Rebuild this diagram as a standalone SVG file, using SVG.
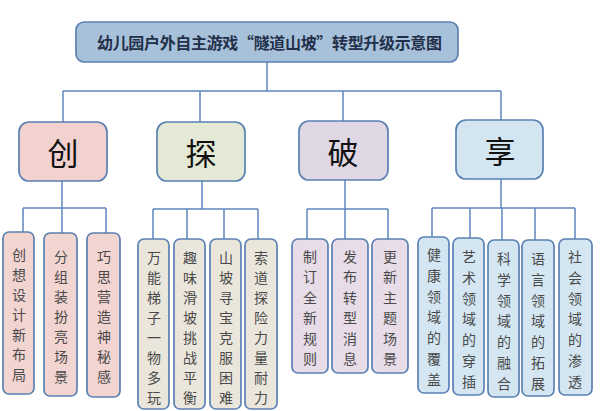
<svg xmlns="http://www.w3.org/2000/svg" width="600" height="411" viewBox="0 0 600 411">
<style>
.ln{fill:none;stroke:#5e87bd;stroke-width:1.5}
.bx{stroke:#5b80b3;stroke-width:1.7}
.cat{font-family:"Noto Sans CJK SC","Noto Sans CJK TC",serif;font-size:31px;fill:#111;text-anchor:middle;dominant-baseline:central}
.ch{font-family:"Noto Sans CJK SC",sans-serif;font-size:14px;fill:#4a4a4a;text-anchor:middle;dominant-baseline:central}
.t{font-family:"Noto Sans CJK SC",sans-serif;font-size:16px;font-weight:bold;fill:#23304a;dominant-baseline:central}
.c1{fill:#f2d1cf}.c2{fill:#e3e9d4}.c3{fill:#e0d7e5}.c4{fill:#d2e5f0}
.k1{fill:#f2d4d1}.k2{fill:#ebe6dc}.k3{fill:#e7dce7}.k4{fill:#d3e6f1}
</style>
<rect width="600" height="411" fill="#ffffff"/>
<g id="connectors">
<path class="ln" d="M267 62V91M63 91H501M63 91V122M200 91V122M343 91V121M501 91V120"/>
<path class="ln" d="M62 181V208M23 208H106M23 208V232M62 208V233M106 208V233"/>
<path class="ln" d="M202 181V209M153 209H258M153 209V239M187 209V239M224 209V239M258 209V239"/>
<path class="ln" d="M345 180V239M307 209H388M307 209V239M388 209V239"/>
<path class="ln" d="M501 179V208M432 208H575M432 208V237M470 208V238M502 208V240M535 208V240M575 208V239"/>
</g>
<g id="title">
<rect class="bx" x="76" y="22" width="382" height="40" rx="8" fill="#a8c1da"/>
<text class="t" x="97" y="42" textLength="345" lengthAdjust="spacing">幼儿园户外自主游戏“隧道山坡”转型升级示意图</text>
</g>
<g id="cat-chuang"><rect class="bx c1" x="19" y="122" width="88" height="59" rx="10"/><text class="cat" x="63" y="151">创</text></g>
<g id="cat-tan"><rect class="bx c2" x="157" y="122" width="88" height="59" rx="10"/><text class="cat" x="201" y="151">探</text></g>
<g id="cat-po"><rect class="bx c3" x="299" y="121" width="89" height="59" rx="10"/><text class="cat" x="343" y="150">破</text></g>
<g id="cat-xiang"><rect class="bx c4" x="456" y="120" width="87" height="59" rx="10"/><text class="cat" x="500" y="149">享</text></g>

<g id="n1"><rect class="bx k1" x="3" y="232" width="31" height="162" rx="6"/><text class="ch" x="19"><tspan x="19" y="254">创</tspan><tspan x="19" dy="20">想</tspan><tspan x="19" dy="20">设</tspan><tspan x="19" dy="20">计</tspan><tspan x="19" dy="20">新</tspan><tspan x="19" dy="20">布</tspan><tspan x="19" dy="20">局</tspan></text></g>
<g id="n2"><rect class="bx k1" x="44" y="233" width="33" height="163" rx="6"/><text class="ch"><tspan x="61" y="256">分</tspan><tspan x="61" dy="20">组</tspan><tspan x="61" dy="20">装</tspan><tspan x="61" dy="20">扮</tspan><tspan x="61" dy="20">亮</tspan><tspan x="61" dy="20">场</tspan><tspan x="61" dy="20">景</tspan></text></g>
<g id="n3"><rect class="bx k1" x="87" y="233" width="33" height="164" rx="6"/><text class="ch"><tspan x="104" y="256">巧</tspan><tspan x="104" dy="20">思</tspan><tspan x="104" dy="20">营</tspan><tspan x="104" dy="20">造</tspan><tspan x="104" dy="20">神</tspan><tspan x="104" dy="20">秘</tspan><tspan x="104" dy="20">感</tspan></text></g>

<g id="n4"><rect class="bx k2" x="138" y="239" width="31" height="170" rx="6"/><text class="ch"><tspan x="154" y="257">万</tspan><tspan x="154" dy="20">能</tspan><tspan x="154" dy="20">梯</tspan><tspan x="154" dy="20">子</tspan><tspan x="154" dy="20">一</tspan><tspan x="154" dy="20">物</tspan><tspan x="154" dy="20">多</tspan><tspan x="154" dy="20">玩</tspan></text></g>
<g id="n5"><rect class="bx k2" x="174" y="239" width="31" height="170" rx="6"/><text class="ch"><tspan x="190" y="257">趣</tspan><tspan x="190" dy="20">味</tspan><tspan x="190" dy="20">滑</tspan><tspan x="190" dy="20">坡</tspan><tspan x="190" dy="20">挑</tspan><tspan x="190" dy="20">战</tspan><tspan x="190" dy="20">平</tspan><tspan x="190" dy="20">衡</tspan></text></g>
<g id="n6"><rect class="bx k2" x="210" y="239" width="31" height="170" rx="6"/><text class="ch"><tspan x="226" y="257">山</tspan><tspan x="226" dy="20">坡</tspan><tspan x="226" dy="20">寻</tspan><tspan x="226" dy="20">宝</tspan><tspan x="226" dy="20">克</tspan><tspan x="226" dy="20">服</tspan><tspan x="226" dy="20">困</tspan><tspan x="226" dy="20">难</tspan></text></g>
<g id="n7"><rect class="bx k2" x="245" y="239" width="32" height="170" rx="6"/><text class="ch"><tspan x="261" y="257">索</tspan><tspan x="261" dy="20">道</tspan><tspan x="261" dy="20">探</tspan><tspan x="261" dy="20">险</tspan><tspan x="261" dy="20">力</tspan><tspan x="261" dy="20">量</tspan><tspan x="261" dy="20">耐</tspan><tspan x="261" dy="20">力</tspan></text></g>

<g id="n8"><rect class="bx k3" x="292" y="239" width="36" height="134" rx="6"/><text class="ch"><tspan x="310" y="256">制</tspan><tspan x="310" dy="20.4">订</tspan><tspan x="310" dy="20.4">全</tspan><tspan x="310" dy="20.4">新</tspan><tspan x="310" dy="20.4">规</tspan><tspan x="310" dy="20.4">则</tspan></text></g>
<g id="n9"><rect class="bx k3" x="332" y="239" width="36" height="134" rx="6"/><text class="ch"><tspan x="350" y="256">发</tspan><tspan x="350" dy="20.4">布</tspan><tspan x="350" dy="20.4">转</tspan><tspan x="350" dy="20.4">型</tspan><tspan x="350" dy="20.4">消</tspan><tspan x="350" dy="20.4">息</tspan></text></g>
<g id="n10"><rect class="bx k3" x="372" y="239" width="36" height="134" rx="6"/><text class="ch"><tspan x="390" y="256">更</tspan><tspan x="390" dy="20.4">新</tspan><tspan x="390" dy="20.4">主</tspan><tspan x="390" dy="20.4">题</tspan><tspan x="390" dy="20.4">场</tspan><tspan x="390" dy="20.4">景</tspan></text></g>

<g id="n11"><rect class="bx k4" x="418" y="237" width="31" height="156" rx="6"/><text class="ch"><tspan x="434" y="254">健</tspan><tspan x="434" dy="20.8">康</tspan><tspan x="434" dy="20.8">领</tspan><tspan x="434" dy="20.8">域</tspan><tspan x="434" dy="20.8">的</tspan><tspan x="434" dy="20.8">覆</tspan><tspan x="434" dy="20.8">盖</tspan></text></g>
<g id="n12"><rect class="bx k4" x="453" y="238" width="31" height="157" rx="6"/><text class="ch"><tspan x="469" y="256">艺</tspan><tspan x="469" dy="20.8">术</tspan><tspan x="469" dy="20.8">领</tspan><tspan x="469" dy="20.8">域</tspan><tspan x="469" dy="20.8">的</tspan><tspan x="469" dy="20.8">穿</tspan><tspan x="469" dy="20.8">插</tspan></text></g>
<g id="n13"><rect class="bx k4" x="488" y="240" width="31" height="157" rx="6"/><text class="ch"><tspan x="504" y="258">科</tspan><tspan x="504" dy="20.8">学</tspan><tspan x="504" dy="20.8">领</tspan><tspan x="504" dy="20.8">域</tspan><tspan x="504" dy="20.8">的</tspan><tspan x="504" dy="20.8">融</tspan><tspan x="504" dy="20.8">合</tspan></text></g>
<g id="n14"><rect class="bx k4" x="522" y="240" width="32" height="156" rx="6"/><text class="ch"><tspan x="538" y="258">语</tspan><tspan x="538" dy="20.8">言</tspan><tspan x="538" dy="20.8">领</tspan><tspan x="538" dy="20.8">域</tspan><tspan x="538" dy="20.8">的</tspan><tspan x="538" dy="20.8">拓</tspan><tspan x="538" dy="20.8">展</tspan></text></g>
<g id="n15"><rect class="bx k4" x="559" y="239" width="33" height="156" rx="6"/><text class="ch"><tspan x="575" y="256">社</tspan><tspan x="575" dy="20.8">会</tspan><tspan x="575" dy="20.8">领</tspan><tspan x="575" dy="20.8">域</tspan><tspan x="575" dy="20.8">的</tspan><tspan x="575" dy="20.8">渗</tspan><tspan x="575" dy="20.8">透</tspan></text></g>
</svg>
